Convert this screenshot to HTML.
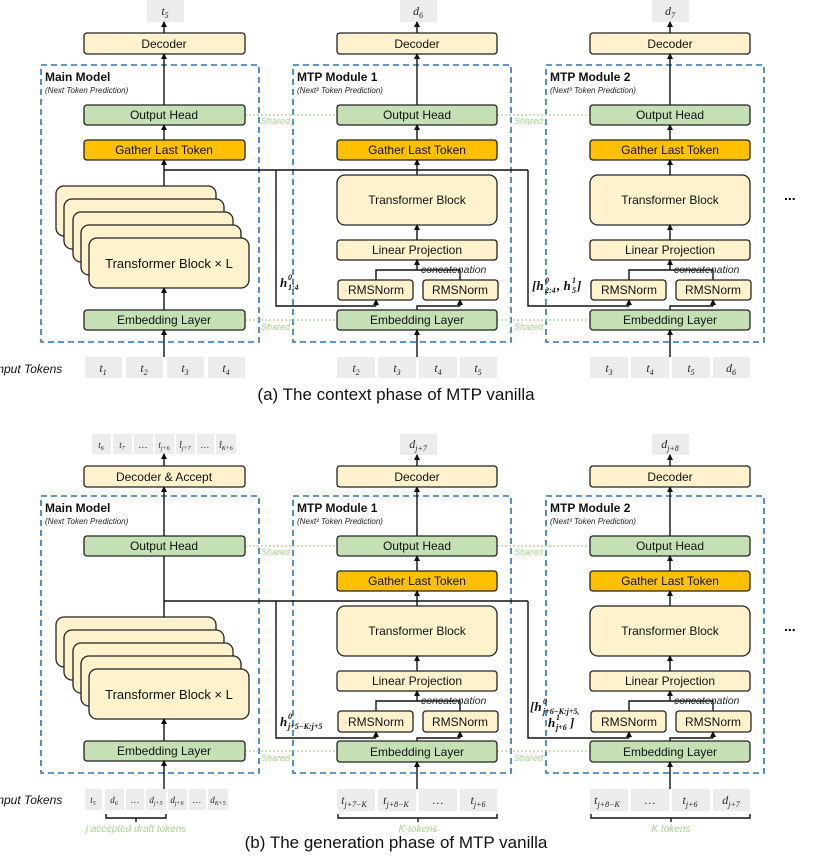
<!DOCTYPE html>
<html><head><meta charset="utf-8"><style>
html,body{margin:0;padding:0;background:#fff;}
svg{display:block;font-family:"Liberation Sans",sans-serif;}
.y{fill:#fff2cc;stroke:#222;stroke-width:1.3}
.g{fill:#c5e0b4;stroke:#222;stroke-width:1.3}
.o{fill:#ffc000;stroke:#222;stroke-width:1.3}
.d{fill:none;stroke:#2e75b6;stroke-width:1.6;stroke-dasharray:6,4}
.l{fill:none;stroke:#111;stroke-width:1.4}
.a{fill:none;stroke:#111;stroke-width:1.4;marker-end:url(#ar)}
.sh{fill:none;stroke:#a9d18e;stroke-width:1.3;stroke-dasharray:2,2}
.t{font-size:12px;text-anchor:middle;fill:#111}
.tk{fill:#ececec}
.m{font-family:"Liberation Serif",serif;font-style:italic;font-size:12px;text-anchor:middle;fill:#222}
.mb{font-family:"Liberation Serif",serif;font-style:italic;font-weight:bold;font-size:13px;fill:#111}
.ss{font-size:8px}
.shr{font-size:9px;font-style:italic;fill:#a9d18e}
.ti{font-size:12px;font-weight:bold;fill:#111}
.st{font-size:8px;font-style:italic;fill:#222}
.cc{font-size:10.5px;font-style:italic;fill:#222}
</style></head><body>
<svg width="827" height="859" viewBox="0 0 827 859" xmlns="http://www.w3.org/2000/svg">
<defs><marker id="ar" markerWidth="6" markerHeight="6" refX="5" refY="3" orient="auto" markerUnits="userSpaceOnUse"><path d="M0,0 L6,3 L0,6 z" fill="#111"/></marker></defs>

<!-- ================= PANEL A ================= -->
<rect class="tk" x="147" y="0" width="37" height="22"/><text class="m" x="165" y="15">t<tspan font-size="8" dy="3">5</tspan></text>
<rect class="tk" x="400" y="0" width="37" height="22"/><text class="m" x="418" y="15">d<tspan font-size="8" dy="3">6</tspan></text>
<rect class="tk" x="652" y="0" width="37" height="22"/><text class="m" x="670" y="15">d<tspan font-size="8" dy="3">7</tspan></text>

<rect class="d" x="41" y="65" width="218" height="277"/>
<rect class="d" x="293" y="65" width="218" height="277"/>
<rect class="d" x="546" y="65" width="218" height="277"/>
<text class="ti" x="45" y="81">Main Model</text><text class="st" x="45" y="93">(Next Token Prediction)</text>
<text class="ti" x="297" y="81">MTP Module 1</text><text class="st" x="297" y="93">(Next² Token Prediction)</text>
<text class="ti" x="550" y="81">MTP Module 2</text><text class="st" x="550" y="93">(Next³ Token Prediction)</text>

<line class="sh" x1="245" y1="115" x2="337" y2="115"/><line class="sh" x1="497" y1="115" x2="590" y2="115"/>
<line class="sh" x1="245" y1="320" x2="337" y2="320"/><line class="sh" x1="497" y1="320" x2="590" y2="320"/>
<text class="shr" x="261" y="124">Shared</text><text class="shr" x="514" y="124">Shared</text>
<text class="shr" x="261" y="330">Shared</text><text class="shr" x="514" y="330">Shared</text>

<line class="l" x1="164" y1="170" x2="528" y2="170"/>
<polyline class="l" points="276,170 276,306 376,306"/><line class="a" x1="376" y1="306" x2="376" y2="300"/>
<polyline class="l" points="528,170 528,306 629,306"/><line class="a" x1="629" y1="306" x2="629" y2="300"/>

<rect class="y" x="84" y="33" width="161" height="21" rx="3"/><text class="t" x="164" y="48">Decoder</text>
<line class="a" x1="164" y1="33" x2="164" y2="22"/>
<line class="a" x1="164" y1="105" x2="164" y2="54"/>
<rect class="g" x="84" y="105" width="161" height="20" rx="3"/><text class="t" x="164" y="119">Output Head</text>
<line class="a" x1="164" y1="140" x2="164" y2="125"/>
<rect class="o" x="84" y="140" width="161" height="20" rx="3"/><text class="t" x="164" y="154">Gather Last Token</text>
<line class="a" x1="164" y1="186" x2="164" y2="160"/>
<rect class="y" x="56" y="186" width="160" height="50" rx="8"/>
<rect class="y" x="64" y="199" width="160" height="50" rx="8"/>
<rect class="y" x="73" y="212" width="160" height="50" rx="8"/>
<rect class="y" x="81" y="225" width="160" height="50" rx="8"/>
<rect class="y" x="89" y="238" width="160" height="50" rx="8"/><text class="t" x="169" y="268" style="font-size:13px">Transformer Block × L</text>
<line class="a" x1="164" y1="310" x2="164" y2="288"/>
<rect class="g" x="84" y="310" width="161" height="20" rx="3"/><text class="t" x="164" y="324">Embedding Layer</text>
<line class="a" x1="164" y1="357" x2="164" y2="330"/>

<g>
<rect class="y" x="337" y="33" width="160" height="21" rx="3"/><text class="t" x="417" y="48">Decoder</text>
<line class="a" x1="417" y1="33" x2="417" y2="22"/>
<line class="a" x1="417" y1="105" x2="417" y2="54"/>
<rect class="g" x="337" y="105" width="160" height="20" rx="3"/><text class="t" x="417" y="119">Output Head</text>
<line class="a" x1="417" y1="140" x2="417" y2="125"/>
<rect class="o" x="337" y="140" width="160" height="20" rx="3"/><text class="t" x="417" y="154">Gather Last Token</text>
<line class="a" x1="417" y1="175" x2="417" y2="160"/>
<rect class="y" x="337" y="175" width="160" height="50" rx="8"/><text class="t" x="417" y="204">Transformer Block</text>
<line class="a" x1="417" y1="240" x2="417" y2="225"/>
<rect class="y" x="337" y="240" width="160" height="20" rx="3"/><text class="t" x="417" y="254">Linear Projection</text>
<polyline class="l" points="376,280 376,270 460,270 460,280"/><line class="a" x1="417" y1="270" x2="417" y2="260"/>
<text class="cc" x="421" y="273">concatenation</text>
<rect class="y" x="338" y="280" width="75" height="20" rx="3"/><text class="t" x="376" y="294">RMSNorm</text>
<rect class="y" x="423" y="280" width="75" height="20" rx="3"/><text class="t" x="460" y="294">RMSNorm</text>
<polyline class="l" points="417,310 417,306 460,306"/><line class="a" x1="460" y1="306" x2="460" y2="300"/>
<rect class="g" x="337" y="310" width="160" height="20" rx="3"/><text class="t" x="417" y="324">Embedding Layer</text>
<line class="a" x1="417" y1="357" x2="417" y2="330"/>
</g>
<g transform="translate(253,0)">
<rect class="y" x="337" y="33" width="160" height="21" rx="3"/><text class="t" x="417" y="48">Decoder</text>
<line class="a" x1="417" y1="33" x2="417" y2="22"/>
<line class="a" x1="417" y1="105" x2="417" y2="54"/>
<rect class="g" x="337" y="105" width="160" height="20" rx="3"/><text class="t" x="417" y="119">Output Head</text>
<line class="a" x1="417" y1="140" x2="417" y2="125"/>
<rect class="o" x="337" y="140" width="160" height="20" rx="3"/><text class="t" x="417" y="154">Gather Last Token</text>
<line class="a" x1="417" y1="175" x2="417" y2="160"/>
<rect class="y" x="337" y="175" width="160" height="50" rx="8"/><text class="t" x="417" y="204">Transformer Block</text>
<line class="a" x1="417" y1="240" x2="417" y2="225"/>
<rect class="y" x="337" y="240" width="160" height="20" rx="3"/><text class="t" x="417" y="254">Linear Projection</text>
<polyline class="l" points="376,280 376,270 460,270 460,280"/><line class="a" x1="417" y1="270" x2="417" y2="260"/>
<text class="cc" x="421" y="273">concatenation</text>
<rect class="y" x="338" y="280" width="75" height="20" rx="3"/><text class="t" x="376" y="294">RMSNorm</text>
<rect class="y" x="423" y="280" width="75" height="20" rx="3"/><text class="t" x="460" y="294">RMSNorm</text>
<polyline class="l" points="417,310 417,306 460,306"/><line class="a" x1="460" y1="306" x2="460" y2="300"/>
<rect class="g" x="337" y="310" width="160" height="20" rx="3"/><text class="t" x="417" y="324">Embedding Layer</text>
<line class="a" x1="417" y1="357" x2="417" y2="330"/>
</g>
<text x="784" y="200" font-size="14" font-weight="bold">...</text>

<text class="mb" x="280" y="287">h</text><text class="mb ss" x="288" y="280">0</text><text class="mb ss" x="288" y="290">1:4</text>
<text class="mb" x="532" y="290">[h</text><text class="mb ss" x="545" y="283">0</text><text class="mb ss" x="545" y="293">2:4</text><text class="mb" x="557" y="290">, h</text><text class="mb ss" x="572" y="283">1</text><text class="mb ss" x="572" y="293">5</text><text class="mb" x="577" y="290">]</text>

<text x="-6" y="373" font-size="12" font-style="italic" fill="#111">Input Tokens</text>
<rect class="tk" x="85" y="357" width="37" height="21"/><text class="m" x="103" y="372">t<tspan font-size="8" dy="3">1</tspan></text>
<rect class="tk" x="126" y="357" width="37" height="21"/><text class="m" x="144" y="372">t<tspan font-size="8" dy="3">2</tspan></text>
<rect class="tk" x="167" y="357" width="37" height="21"/><text class="m" x="185" y="372">t<tspan font-size="8" dy="3">3</tspan></text>
<rect class="tk" x="208" y="357" width="37" height="21"/><text class="m" x="226" y="372">t<tspan font-size="8" dy="3">4</tspan></text>
<rect class="tk" x="337" y="357" width="38" height="21"/><text class="m" x="356" y="372">t<tspan font-size="8" dy="3">2</tspan></text>
<rect class="tk" x="378" y="357" width="38" height="21"/><text class="m" x="397" y="372">t<tspan font-size="8" dy="3">3</tspan></text>
<rect class="tk" x="419" y="357" width="38" height="21"/><text class="m" x="438" y="372">t<tspan font-size="8" dy="3">4</tspan></text>
<rect class="tk" x="460" y="357" width="37" height="21"/><text class="m" x="478" y="372">t<tspan font-size="8" dy="3">5</tspan></text>
<rect class="tk" x="590" y="357" width="38" height="21"/><text class="m" x="609" y="372">t<tspan font-size="8" dy="3">3</tspan></text>
<rect class="tk" x="631" y="357" width="38" height="21"/><text class="m" x="650" y="372">t<tspan font-size="8" dy="3">4</tspan></text>
<rect class="tk" x="672" y="357" width="38" height="21"/><text class="m" x="691" y="372">t<tspan font-size="8" dy="3">5</tspan></text>
<rect class="tk" x="713" y="357" width="37" height="21"/><text class="m" x="731" y="372">d<tspan font-size="8" dy="3">6</tspan></text>
<text x="396" y="400" font-size="17" text-anchor="middle" fill="#111">(a) The context phase of MTP vanilla</text>

<!-- ================= PANEL B ================= -->
<g font-family="Liberation Serif,serif" font-style="italic" font-size="9" text-anchor="middle" fill="#222">
<rect class="tk" x="92" y="434" width="19" height="20"/><text x="101" y="448">t<tspan font-size="6" dy="2">6</tspan></text>
<rect class="tk" x="113" y="434" width="19" height="20"/><text x="122" y="448">t<tspan font-size="6" dy="2">7</tspan></text>
<rect class="tk" x="134" y="434" width="19" height="20"/><text x="143" y="448">…</text>
<rect class="tk" x="155" y="434" width="19" height="20"/><text x="164" y="448">t<tspan font-size="6" dy="2">j+6</tspan></text>
<rect class="tk" x="176" y="434" width="19" height="20"/><text x="185" y="448">t̂<tspan font-size="6" dy="2">j+7</tspan></text>
<rect class="tk" x="197" y="434" width="17" height="20"/><text x="205" y="448">…</text>
<rect class="tk" x="216" y="434" width="20" height="20"/><text x="226" y="448">t̂<tspan font-size="6" dy="2">K+6</tspan></text>
</g>
<rect class="tk" x="400" y="434" width="37" height="21"/><text class="m" x="418" y="448">d<tspan font-size="8" dy="3">j+7</tspan></text>
<rect class="tk" x="652" y="434" width="37" height="21"/><text class="m" x="670" y="448">d<tspan font-size="8" dy="3">j+8</tspan></text>

<g transform="translate(0,431)">
<rect class="d" x="41" y="65" width="218" height="277"/>
<rect class="d" x="293" y="65" width="218" height="277"/>
<rect class="d" x="546" y="65" width="218" height="277"/>
<text class="ti" x="45" y="81">Main Model</text><text class="st" x="45" y="93">(Next Token Prediction)</text>
<text class="ti" x="297" y="81">MTP Module 1</text><text class="st" x="297" y="93">(Next² Token Prediction)</text>
<text class="ti" x="550" y="81">MTP Module 2</text><text class="st" x="550" y="93">(Next³ Token Prediction)</text>
<line class="sh" x1="245" y1="115" x2="337" y2="115"/><line class="sh" x1="497" y1="115" x2="590" y2="115"/>
<line class="sh" x1="245" y1="320" x2="337" y2="320"/><line class="sh" x1="497" y1="320" x2="590" y2="320"/>
<text class="shr" x="261" y="124">Shared</text><text class="shr" x="514" y="124">Shared</text>
<text class="shr" x="261" y="330">Shared</text><text class="shr" x="514" y="330">Shared</text>
<line class="l" x1="164" y1="170" x2="528" y2="170"/>
<polyline class="l" points="276,170 276,307 376,307"/><line class="a" x1="376" y1="307" x2="376" y2="301"/>
<polyline class="l" points="528,170 528,307 629,307"/><line class="a" x1="629" y1="307" x2="629" y2="301"/>

<rect class="y" x="84" y="35" width="161" height="21" rx="3"/><text class="t" x="164" y="50">Decoder &amp; Accept</text>
<line class="a" x1="164" y1="35" x2="164" y2="23"/>
<line class="a" x1="164" y1="105" x2="164" y2="56"/>
<rect class="g" x="84" y="105" width="161" height="20" rx="3"/><text class="t" x="164" y="119">Output Head</text>
<line class="l" x1="164" y1="186" x2="164" y2="125"/>
<rect class="y" x="56" y="186" width="160" height="50" rx="8"/>
<rect class="y" x="64" y="199" width="160" height="50" rx="8"/>
<rect class="y" x="73" y="212" width="160" height="50" rx="8"/>
<rect class="y" x="81" y="225" width="160" height="50" rx="8"/>
<rect class="y" x="89" y="238" width="160" height="50" rx="8"/><text class="t" x="169" y="268" style="font-size:13px">Transformer Block × L</text>
<line class="a" x1="164" y1="310" x2="164" y2="288"/>
<rect class="g" x="84" y="310" width="161" height="20" rx="3"/><text class="t" x="164" y="324">Embedding Layer</text>
<line class="a" x1="164" y1="358" x2="164" y2="330"/>

<g>
<line class="a" x1="417" y1="105" x2="417" y2="56"/>
<rect class="y" x="337" y="35" width="160" height="21" rx="3"/><text class="t" x="417" y="50">Decoder</text>
<line class="a" x1="417" y1="35" x2="417" y2="24"/>
<rect class="g" x="337" y="105" width="160" height="20" rx="3"/><text class="t" x="417" y="119">Output Head</text>
<line class="a" x1="417" y1="140" x2="417" y2="125"/>
<rect class="o" x="337" y="140" width="160" height="20" rx="3"/><text class="t" x="417" y="154">Gather Last Token</text>
<line class="a" x1="417" y1="175" x2="417" y2="160"/>
<rect class="y" x="337" y="175" width="160" height="50" rx="8"/><text class="t" x="417" y="204">Transformer Block</text>
<line class="a" x1="417" y1="240" x2="417" y2="225"/>
<rect class="y" x="337" y="240" width="160" height="20" rx="3"/><text class="t" x="417" y="254">Linear Projection</text>
<polyline class="l" points="376,280 376,270 460,270 460,280"/><line class="a" x1="417" y1="270" x2="417" y2="260"/>
<text class="cc" x="421" y="273">concatenation</text>
<rect class="y" x="338" y="280" width="75" height="21" rx="3"/><text class="t" x="376" y="295">RMSNorm</text>
<rect class="y" x="423" y="280" width="75" height="21" rx="3"/><text class="t" x="460" y="295">RMSNorm</text>
<polyline class="l" points="417,310 417,307 460,307"/><line class="a" x1="460" y1="307" x2="460" y2="301"/>
<rect class="g" x="337" y="310" width="160" height="21" rx="3"/><text class="t" x="417" y="325">Embedding Layer</text>
<line class="a" x1="417" y1="358" x2="417" y2="331"/>
</g>
<g transform="translate(253,0)">
<line class="a" x1="417" y1="105" x2="417" y2="56"/>
<rect class="y" x="337" y="35" width="160" height="21" rx="3"/><text class="t" x="417" y="50">Decoder</text>
<line class="a" x1="417" y1="35" x2="417" y2="24"/>
<rect class="g" x="337" y="105" width="160" height="20" rx="3"/><text class="t" x="417" y="119">Output Head</text>
<line class="a" x1="417" y1="140" x2="417" y2="125"/>
<rect class="o" x="337" y="140" width="160" height="20" rx="3"/><text class="t" x="417" y="154">Gather Last Token</text>
<line class="a" x1="417" y1="175" x2="417" y2="160"/>
<rect class="y" x="337" y="175" width="160" height="50" rx="8"/><text class="t" x="417" y="204">Transformer Block</text>
<line class="a" x1="417" y1="240" x2="417" y2="225"/>
<rect class="y" x="337" y="240" width="160" height="20" rx="3"/><text class="t" x="417" y="254">Linear Projection</text>
<polyline class="l" points="376,280 376,270 460,270 460,280"/><line class="a" x1="417" y1="270" x2="417" y2="260"/>
<text class="cc" x="421" y="273">concatenation</text>
<rect class="y" x="338" y="280" width="75" height="21" rx="3"/><text class="t" x="376" y="295">RMSNorm</text>
<rect class="y" x="423" y="280" width="75" height="21" rx="3"/><text class="t" x="460" y="295">RMSNorm</text>
<polyline class="l" points="417,310 417,307 460,307"/><line class="a" x1="460" y1="307" x2="460" y2="301"/>
<rect class="g" x="337" y="310" width="160" height="21" rx="3"/><text class="t" x="417" y="325">Embedding Layer</text>
<line class="a" x1="417" y1="358" x2="417" y2="331"/>
</g>
<text x="784" y="200" font-size="14" font-weight="bold">...</text>
</g>

<text class="mb" x="280" y="726">h</text><text class="mb ss" x="288" y="719">0</text><text class="mb ss" x="288" y="729">j+5−K:j+5</text>
<text class="mb" x="530" y="711">[h</text><text class="mb ss" x="543" y="704">0</text><text class="mb ss" x="543" y="714">j+6−K:j+5,</text>
<text class="mb" x="548" y="727">h</text><text class="mb ss" x="556" y="720">1</text><text class="mb ss" x="556" y="730">j+6</text><text class="mb" x="570" y="727">]</text>

<text x="-6" y="804" font-size="12" font-style="italic" fill="#111">Input Tokens</text>
<g font-family="Liberation Serif,serif" font-style="italic" font-size="9" text-anchor="middle" fill="#222">
<rect class="tk" x="85" y="789" width="17" height="21"/><text x="93" y="803">t<tspan font-size="6" dy="2">5</tspan></text>
<rect class="tk" x="105" y="789" width="19" height="21"/><text x="114" y="803">d<tspan font-size="6" dy="2">6</tspan></text>
<rect class="tk" x="126" y="789" width="18" height="21"/><text x="135" y="803">…</text>
<rect class="tk" x="146" y="789" width="20" height="21"/><text x="156" y="803">d<tspan font-size="6" dy="2">j+5</tspan></text>
<rect class="tk" x="168" y="789" width="19" height="21"/><text x="177" y="803">d<tspan font-size="6" dy="2">j+6</tspan></text>
<rect class="tk" x="189" y="789" width="17" height="21"/><text x="197" y="803">…</text>
<rect class="tk" x="208" y="789" width="20" height="21"/><text x="218" y="803">d<tspan font-size="6" dy="2">K+5</tspan></text>
</g>
<rect class="tk" x="337" y="789" width="38" height="22"/><text class="m" x="354" y="804">t<tspan font-size="8" dy="3">j+7−K</tspan></text>
<rect class="tk" x="378" y="789" width="38" height="22"/><text class="m" x="396" y="804">t<tspan font-size="8" dy="3">j+8−K</tspan></text>
<rect class="tk" x="419" y="789" width="38" height="22"/><text class="m" x="438" y="804">…</text>
<rect class="tk" x="460" y="789" width="37" height="22"/><text class="m" x="478" y="804">t<tspan font-size="8" dy="3">j+6</tspan></text>
<rect class="tk" x="590" y="789" width="38" height="22"/><text class="m" x="607" y="804">t<tspan font-size="8" dy="3">j+8−K</tspan></text>
<rect class="tk" x="631" y="789" width="38" height="22"/><text class="m" x="650" y="804">…</text>
<rect class="tk" x="672" y="789" width="38" height="22"/><text class="m" x="690" y="804">t<tspan font-size="8" dy="3">j+6</tspan></text>
<rect class="tk" x="713" y="789" width="37" height="22"/><text class="m" x="731" y="804">d<tspan font-size="8" dy="3">j+7</tspan></text>

<polyline class="l" stroke-width="1" points="106,814 106,818 166,818 166,814"/><line class="l" stroke-width="1" x1="136" y1="818" x2="136" y2="822"/>
<polyline class="l" stroke-width="1" points="338,814 338,818 497,818 497,814"/><line class="l" stroke-width="1" x1="418" y1="818" x2="418" y2="822"/>
<polyline class="l" stroke-width="1" points="591,814 591,818 750,818 750,814"/><line class="l" stroke-width="1" x1="671" y1="818" x2="671" y2="822"/>
<text x="136" y="832" font-size="10" font-style="italic" fill="#a9d18e" text-anchor="middle">j accepted draft tokens</text>
<text x="418" y="832" font-size="10" font-style="italic" fill="#a9d18e" text-anchor="middle">K tokens</text>
<text x="671" y="832" font-size="10" font-style="italic" fill="#a9d18e" text-anchor="middle">K tokens</text>
<text x="396" y="848" font-size="17" text-anchor="middle" fill="#111">(b) The generation phase of MTP vanilla</text>
</svg>
</body></html>
